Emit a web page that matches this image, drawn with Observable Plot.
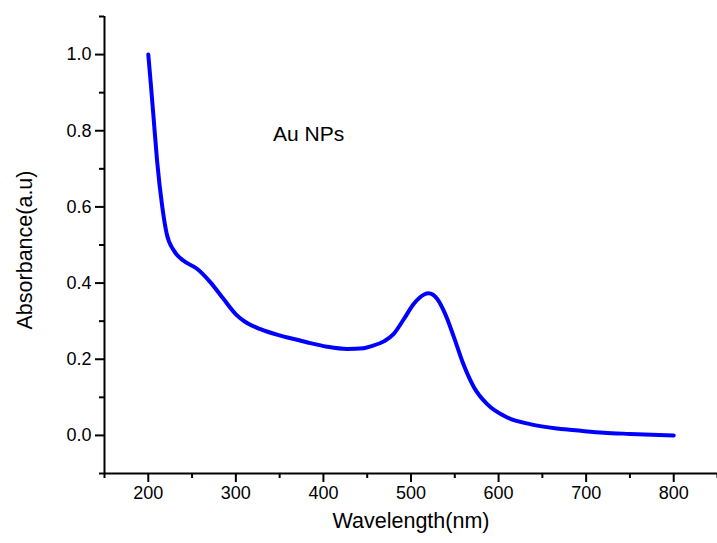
<!DOCTYPE html>
<html>
<head>
<meta charset="utf-8">
<script src="https://cdn.jsdelivr.net/npm/d3@7"></script>
<script src="https://cdn.jsdelivr.net/npm/@observablehq/plot@0.6"></script>
<style>
  html, body { margin: 0; padding: 0; background: #fff; }
  #chart { width: 717px; height: 543px; }
</style>
</head>
<body>
<div id="chart"></div>
<script>
// Wavelength (nm) and absorbance (a.u.)
const wavelength = [200, 203, 206, 210, 216, 221, 229, 240, 256, 271, 286, 300, 309, 328, 351, 359, 365, 382, 404, 427, 446, 454, 469, 480, 492, 503, 515, 520, 530, 539, 549, 559, 572, 587, 610, 637, 667, 694, 720, 750, 800];
const absorbance = [1.0, 0.92, 0.836, 0.722, 0.60, 0.53, 0.486, 0.459, 0.437, 0.402, 0.358, 0.318, 0.301, 0.279, 0.262, 0.257, 0.254, 0.244, 0.233, 0.227, 0.229, 0.234, 0.247, 0.266, 0.306, 0.345, 0.370, 0.373, 0.358, 0.319, 0.258, 0.192, 0.126, 0.082, 0.047, 0.029, 0.018, 0.012, 0.007, 0.004, 0.0];

const xMajorTicks = [200, 300, 400, 500, 600, 700, 800];
const xMinorTicks = [150, 250, 350, 450, 550, 650, 750, 850];
const yMajorTicks = [0.0, 0.2, 0.4, 0.6, 0.8, 1.0];
const yMinorTicks = [-0.1, 0.1, 0.3, 0.5, 0.7, 0.9, 1.1];

const xTitle = "Wavelength(nm)";
const yTitle = "Absorbance(a.u)";
const annotation = [{w: 383, a: 0.79, label: "Au NPs"}];

const data = wavelength.map((w, i) => ({w, a: absorbance[i]}));

const chart = Plot.plot({
  width: 717,
  height: 543,
  marginLeft: 104,
  marginRight: 0,
  marginTop: 16,
  marginBottom: 70,
  style: {fontFamily: "Arial, 'Liberation Sans', sans-serif", fontSize: "18px", color: "#000", background: "#fff", overflow: "visible"},
  x: {domain: [150, 850]},
  y: {domain: [-0.1, 1.1]},
  marks: [
    Plot.axisX(xMajorTicks, {tickSize: 9, tickPadding: 4, strokeWidth: 2, fontSize: 18, label: null, tickFormat: d => String(d)}),
    Plot.axisX(xMinorTicks, {tickSize: 5, strokeWidth: 2, label: null, tickFormat: () => ""}),
    Plot.axisY(yMajorTicks, {tickSize: 9, tickPadding: 4, strokeWidth: 2, fontSize: 18, label: null, tickFormat: d3.format(".1f")}),
    Plot.axisY(yMinorTicks, {tickSize: 5, strokeWidth: 2, label: null, tickFormat: () => ""}),
    Plot.ruleY([-0.1], {stroke: "#000", strokeWidth: 2}),
    Plot.ruleX([150], {stroke: "#000", strokeWidth: 2}),
    Plot.line(data, {x: "w", y: "a", stroke: "#0000ff", strokeWidth: 4, curve: "monotone-x", strokeLinecap: "round", strokeLinejoin: "round"}),
    Plot.text(annotation, {x: "w", y: "a", text: "label", fontSize: 21, textAnchor: "middle", fill: "#000"}),
    Plot.text([xTitle], {frameAnchor: "bottom", dy: 54, fontSize: 21.5, fill: "#000"}),
    Plot.text([yTitle], {frameAnchor: "left", dx: -79, dy: 5, rotate: -90, textAnchor: "middle", fontSize: 21.5, fill: "#000"})
  ]
});
document.getElementById("chart").appendChild(chart);
</script>
</body>
</html>
